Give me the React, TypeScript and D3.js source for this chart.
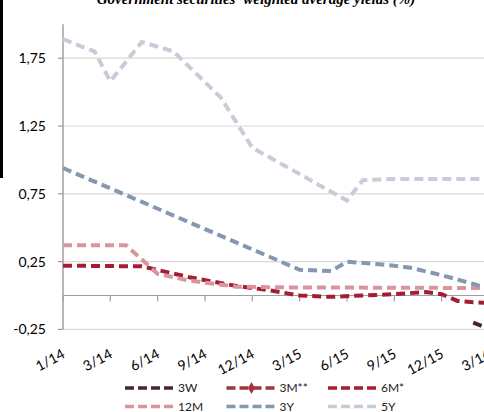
import React from "react"
import * as d3 from "d3"

// x axis labels, one every 3 slots (slot = position along the category axis)
const xLabels = ["1/14", "3/14", "6/14", "9/14", "12/14", "3/15", "6/15", "9/15", "12/15", "3/16"]
const slotCount = 28
const yTicks = [-0.25, 0.25, 0.75, 1.25, 1.75]

// series values per slot, null = no auction in that slot (line is connected across gaps)
const s3W  = [null,null,null,null,null,null,null,null,null,null,null,null,null,null,null,null,null,null,null,null,null,null,null,null,null,null,-0.2,-0.245]
const s3M  = [null,null,null,null,null,null,null,null,null,null,null,null,null,null,null,null,null,null,null,null,null,null,null,null,null,null,null,null]
const s6M  = [0.22,null,null,null,null,0.215,null,null,0.135,null,null,0.07,null,0.04,null,0.0,null,-0.01,null,0.0,null,0.01,null,0.025,0.01,-0.04,-0.05,-0.055]
const s12M = [0.37,null,null,null,0.37,null,0.16,null,0.11,null,null,0.065,null,null,0.06,null,null,null,null,null,null,null,null,null,null,null,null,0.055]
const s3Y  = [0.94,null,null,null,null,null,null,null,null,null,null,null,null,null,null,0.19,null,0.18,0.25,null,null,0.22,0.205,null,0.15,null,0.085,0.05]
const s5Y  = [1.89,null,1.80,1.58,null,1.87,null,1.80,null,null,1.46,null,1.09,null,null,null,null,null,0.70,0.85,null,0.86,null,null,null,null,null,0.86]

const seriesNames = ["3W", "3M**", "6M*", "12M", "3Y", "5Y"]
const seriesData = [s3W, s3M, s6M, s12M, s3Y, s5Y]
const colors = ["#4b2236", "#a0353c", "#a51d33", "#d8959c", "#8597b1", "#c6cdd9"]

const font = "Lato, 'Open Sans', sans-serif"

export default function App() {
  const x = d3.scaleLinear().domain([0, 27]).range([63, 489])
  const y = d3.scaleLinear().domain([-0.25, 2.0]).range([329.4, 24.3])

  const line = d3.line<[number, number]>()
    .x(d => x(d[0]))
    .y(d => y(d[1]))

  const paths = seriesData.map((vals, k) => {
    const pts = vals
      .map((v, i) => [i, v] as [number, number | null])
      .filter(d => d[1] !== null) as [number, number][]
    if (pts.length < 2) return null
    return (
      <path key={k} d={line(pts) || ""} fill="none" stroke={colors[k]}
        strokeWidth={4} strokeDasharray="9 5" />
    )
  })

  const tickSlots = xLabels.map((_, i) => i * 3)

  return (
    <svg width={484} height={412} style={{ position: "absolute", left: 0, top: 0, background: "#fff" }}>
      <rect x={0} y={0} width={3} height={178} fill="#000" />
      <text x={256} y={4} textAnchor="middle" fontFamily="'Liberation Serif', 'Times New Roman', serif"
        fontStyle="italic" fontWeight="bold" fontSize={15}>
        Government securities' weighted average yields (%)
      </text>

      {/* gridlines + y labels */}
      {yTicks.map(t => (
        <g key={t}>
          <line x1={63} x2={484} y1={y(t)} y2={y(t)} stroke="#d9d9d9" strokeWidth={1.2} />
          <line x1={58} x2={63} y1={y(t)} y2={y(t)} stroke="#999" strokeWidth={1.2} />
          <text x={46} y={y(t)} dy="0.35em" textAnchor="end" fontFamily={font} fontSize={14} fill="#000">
            {t.toFixed(2).replace(".", ",")}
          </text>
        </g>
      ))}

      {/* y axis */}
      <line x1={63} x2={63} y1={y(2.0)} y2={y(-0.25)} stroke="#a0a0a0" strokeWidth={1.5} />
      {/* category axis at zero */}
      <line x1={63} x2={484} y1={y(0)} y2={y(0)} stroke="#a0a0a0" strokeWidth={1.2} />
      {tickSlots.map(s => (
        <line key={s} x1={x(s)} x2={x(s)} y1={y(0)} y2={y(0) + 6} stroke="#a0a0a0" strokeWidth={1.2} />
      ))}

      {paths}

      {/* x labels, rotated */}
      {xLabels.map((lab, i) => {
        const px = x(i * 3) + 3
        const py = 357
        return (
          <text key={lab} x={px} y={py} textAnchor="end" fontFamily={font} fontSize={14}
            transform={`rotate(-28,${px},${py})`}>{lab}</text>
        )
      })}

      {/* legend */}
      {seriesNames.map((name, k) => {
        const col = k % 3
        const row = Math.floor(k / 3)
        const lx = 125 + col * 101.5
        const ly = 388 + row * 18.5
        return (
          <g key={name}>
            <line x1={lx} x2={lx + 48} y1={ly} y2={ly} stroke={colors[k]} strokeWidth={3.5} strokeDasharray="9 4" />
            {name === "3M**" && (
              <path d={d3.symbol(d3.symbolDiamond, 40)() || ""} transform={`translate(${lx + 25},${ly})`} fill={colors[k]} />
            )}
            <text x={lx + 53} y={ly} dy="0.35em" fontFamily={font} fontSize={12} fill="#222">{name}</text>
          </g>
        )
      })}
    </svg>
  )
}
